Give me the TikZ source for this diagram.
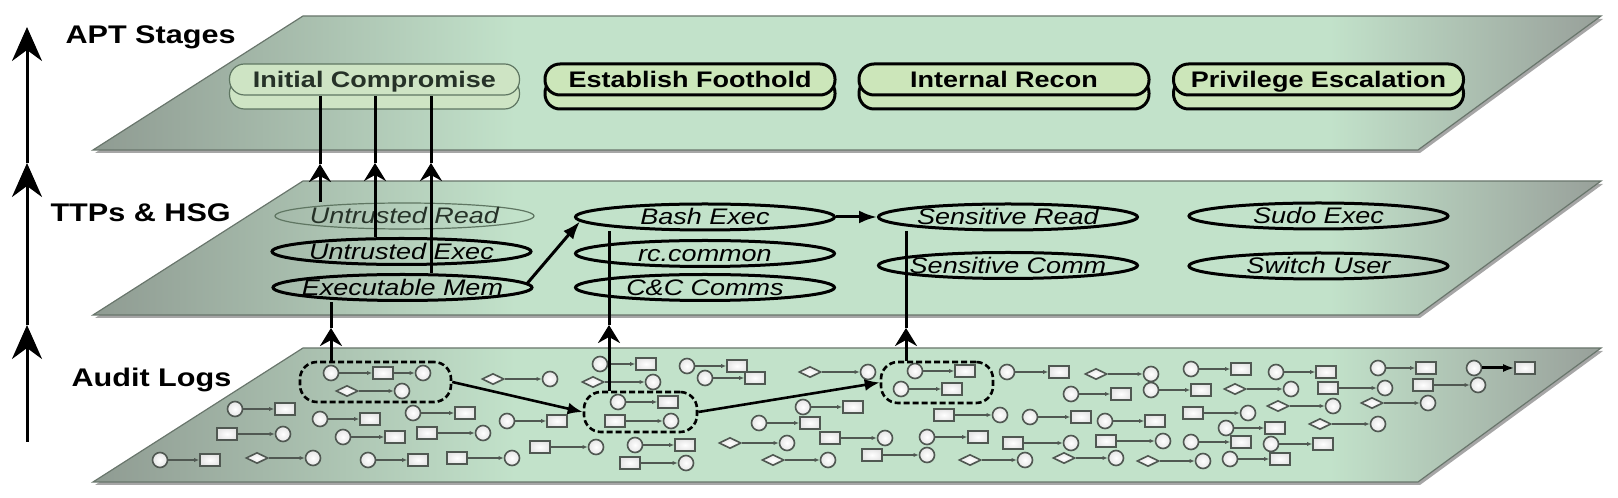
\documentclass[tikz,border=0pt]{standalone}
\usepackage{fontspec}
\setmainfont{Liberation Sans}[FakeStretch=1.2]
\usepackage{xcolor}
\usepackage{tikz}
\usetikzlibrary{arrows.meta, positioning, calc, shapes.geometric, shadows}

\definecolor{planeedge}{RGB}{105,118,108}
\definecolor{pillfill}{RGB}{204,230,186}
\definecolor{fadefill}{RGB}{206,228,196}
\definecolor{fadeline}{RGB}{95,118,98}
\definecolor{fadetext}{RGB}{38,50,40}
\definecolor{logedge}{RGB}{80,88,82}

\pgfdeclarehorizontalshading{planeshade}{100bp}{%
  rgb(0bp)=(0.561,0.608,0.573); rgb(25bp)=(0.561,0.608,0.573);
  rgb(39bp)=(0.761,0.886,0.792); rgb(66bp)=(0.761,0.886,0.792);
  rgb(75bp)=(0.596,0.627,0.604); rgb(100bp)=(0.596,0.627,0.604)}

\tikzset{
  plane/.style={shade, shading=planeshade, draw=planeedge, line width=1.2pt},
  seclabel/.style={anchor=base west, font=\fontsize{25.5}{30}\selectfont\bfseries},
  stage/.style={rectangle, rounded corners=15pt, draw, line width=3pt, fill=pillfill,
    minimum width=290pt, minimum height=31pt, inner sep=0pt,
    font=\fontsize{22.5}{26}\selectfont\bfseries, text height=17pt, text depth=0pt,
    copy shadow={shadow xshift=0pt, shadow yshift=-14pt}},
  stagefaded/.style={stage, draw=fadeline, line width=1.2pt, fill=fadefill, text=fadetext},
  ttp/.style={ellipse, draw, line width=3pt, minimum width=259pt, minimum height=26pt,
    inner xsep=-20pt, inner ysep=0pt, font=\fontsize{22.5}{26}\selectfont\itshape,
    text height=16pt, text depth=0pt},
  ttpfaded/.style={ttp, draw=fadeline, line width=1.2pt, text=fadetext},
  event/.style={draw=logedge, line width=1.6pt, inner color=white, outer color=black!10,
    inner sep=0pt, drop shadow={shadow xshift=0.8pt, shadow yshift=-0.8pt, opacity=0.3}},
  evc/.style={event, circle, minimum size=15pt},
  evr/.style={event, rectangle, minimum width=20pt, minimum height=12pt},
  evd/.style={event, diamond, aspect=2, minimum width=22pt, minimum height=11pt},
  logarrow/.style={-{Latex[length=5pt,width=4pt]}, line width=1.1pt, draw=logedge},
  hotarrow/.style={-{Latex[length=11pt,width=8pt]}, line width=3pt},
  loggroup/.style={rectangle, rounded corners=17pt, draw, line width=2.6pt,
    dash pattern=on 6pt off 3pt, inner sep=0pt},
  axis/.style={line width=3pt, -{Stealth[length=34pt,width=30pt,inset=11pt]}},
  uptip/.style={line width=3pt, -{Stealth[length=18pt,width=22pt,inset=6pt]}},
  uplink/.style={line width=3pt},
  flow/.style={line width=3pt, -{Latex[length=18pt,width=13pt]}},
  grouplink/.style={line width=2.6pt, -{Latex[length=15pt,width=12pt]}},
}

\begin{document}
\begin{tikzpicture}[x=1pt, y=1pt]
  \useasboundingbox (0,0) rectangle (1618,498);

  % the three layers
  \foreach \yb in {16,183,348}{
    \fill[black!35] (95,\yb-3) -- (305,\yb+131) -- (1603,\yb+131) -- (1420,\yb-3) -- cycle;
    \path[plane] (93,\yb) -- (303,\yb+134) -- (1601,\yb+134) -- (1418,\yb) -- cycle;
  }

  % left axis and layer names
  \draw[axis] (27,56) -- (27,173);
  \draw[axis] (27,173) -- (27,335);
  \draw[axis] (27,335) -- (27,471);
  \node[seclabel] (lapt) at (62,454) {APT Stages};
  \node[seclabel] (lttp) at (47,276) {TTPs \& HSG};
  \node[seclabel] (llog) at (68,111) {Audit Logs};

  % APT stages
  \node[stagefaded] (ic) at (374.5,418.5) {Initial Compromise};
  \node[stage] (ef) at (690,418.5) {Establish Foothold};
  \node[stage] (ir) at (1004,418.5) {Internal Recon};
  \node[stage] (pe) at (1318.5,418.5) {Privilege Escalation};

  % TTPs
  \node[ttpfaded] (ur) at (404.5,282) {Untrusted Read};
  \node[ttp] (ue) at (401.5,246.5) {Untrusted Exec};
  \node[ttp] (em) at (402.5,210.5) {Executable Mem};
  \node[ttp] (be) at (705,281) {Bash Exec};
  \node[ttp] (rc) at (705,244.5) {rc.common};
  \node[ttp] (cc) at (705,210.5) {C\&C Comms};
  \node[ttp] (sr) at (1008,281) {Sensitive Read};
  \node[ttp] (sc) at (1008,232.5) {Sensitive Comm};
  \node[ttp] (se) at (1318.5,282) {Sudo Exec};
  \node[ttp] (su) at (1318.5,232) {Switch User};

  % audit log events: x from / x to / y / shapes
  \foreach \xa/\xb/\y/\sa/\sb [count=\i] in {
    347/402/107/evd/evc, 493/550/119/evd/evc, 235/285/89/evc/evr, 320/370/79/evc/evr,
    413/465/85/evc/evr, 507/557/77/evc/evr, 227/283/64/evr/evc, 343/395/61/evc/evr,
    427/483/65/evr/evc, 160/210/38/evc/evr, 257/313/40/evd/evc, 368/418/38/evc/evr,
    457/512/40/evr/evc, 540/596/51/evr/evc, 600/646/134/evc/evr, 593/653/116/evd/evc,
    687/737/132/evc/evr, 705/755/120/evc/evr, 810/868/126/evd/evc, 803/853/91/evc/evr,
    759/810/75/evc/evr, 635/685/53/evc/evr, 630/686/35/evr/evc, 730/787/55/evd/evc,
    773/828/38/evd/evc, 830/885/60/evr/evc, 872/927/43/evr/evc, 927/978/61/evc/evr,
    970/1025/38/evd/evc, 1013/1071/55/evr/evc, 1007/1059/126/evc/evr, 944/1000/83/evr/evc,
    1030/1081/81/evc/evr, 618/668/96/evc/evr, 615/671/77/evr/evc, 915/965/127/evc/evr,
    901/952/109/evc/evr, 1096/1151/124/evd/evc, 1191/1241/129/evc/evr, 1276/1326/126/evc/evr,
    1378/1426/130/evc/evr, 1071/1121/104/evc/evr, 1151/1201/108/evc/evr, 1235/1291/109/evd/evc,
    1328/1385/110/evr/evc, 1423/1478/113/evr/evc, 1278/1333/92/evd/evc, 1372/1428/95/evd/evc,
    1193/1248/85/evr/evc, 1105/1155/77/evc/evr, 1226/1275/70/evc/evr, 1320/1378/74/evd/evc,
    1106/1163/57/evr/evc, 1191/1241/56/evc/evr, 1271/1323/54/evc/evr, 1064/1116/40/evd/evc,
    1148/1203/37/evd/evc, 1230/1280/39/evc/evr}{
    \node[\sa] (ea\i) at (\xa,\y) {};
    \node[\sb] (eb\i) at (\xb,\y) {};
    \draw[logarrow] (ea\i) -- (eb\i);
  }
  % chain in the first group, highlighted event
  \node[evc] (h1) at (331,125) {};
  \node[evr] (h2) at (383,125) {};
  \node[evc] (h3) at (423,125) {};
  \draw[logarrow] (h1) -- (h2);
  \draw[logarrow] (h2) -- (h3);
  \node[evc] (hl1) at (1474,130) {};
  \node[evr] (hl2) at (1525,130) {};
  \draw[hotarrow] (hl1) -- (hl2);

  % matched groups
  \node[loggroup, minimum width=151pt, minimum height=40pt] (g1) at (375.5,116) {};
  \node[loggroup, minimum width=113pt, minimum height=40pt] (g2) at (640.5,86) {};
  \node[loggroup, minimum width=112pt, minimum height=41pt] (g3) at (937,115.5) {};
  \draw[grouplink] (g1.east) -- (g2.west);
  \draw[grouplink] (g2.east) -- (g3.west);

  % logs -> TTPs
  \coordinate (upD) at (331,170);
  \coordinate (upE) at (609,173);
  \coordinate (upF) at (906,170);
  \draw[uptip] (upD |- g1.north) -- (upD);
  \draw[uplink] (upD) -- (upD |- em.south);
  \draw[uptip] (upE |- g2.north) -- (upE);
  \draw[uplink] (upE) -- (upE |- be.south);
  \draw[uptip] (upF |- g3.north) -- (upF);
  \draw[uplink] (upF) -- (upF |- sr.south);

  % HSG edges
  \draw[flow] (em.2) -- (be.182);
  \draw[flow] (be.east) -- (sr.west);

  % TTPs -> stage
  \coordinate (upA) at (320,334);
  \coordinate (upB) at (375,335);
  \coordinate (upC) at (431,335);
  \draw[uptip] (upA |- ur.north) -- (upA);
  \draw[uplink] (upA) -- (upA |- ic.south);
  \draw[uptip] (upB |- ue.north) -- (upB);
  \draw[uplink] (upB) -- (upB |- ic.south);
  \draw[uptip] (upC |- em.north) -- (upC);
  \draw[uplink] (upC) -- (upC |- ic.south);

\end{tikzpicture}
\end{document}
